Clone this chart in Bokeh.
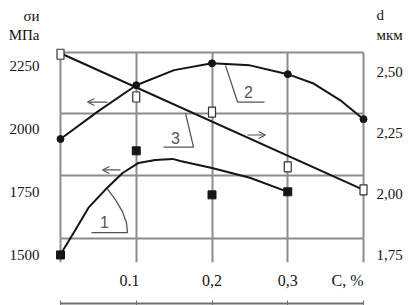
from bokeh.plotting import figure
from bokeh.models import Range1d, LinearAxis, FixedTicker, Label, Arrow, OpenHead
from bokeh.embed import file_html
from bokeh.resources import INLINE

# ---- data ----
c_pct = [0.0, 0.1, 0.2, 0.3, 0.4]
c_label_pos = [0.091, 0.2, 0.3, 0.379]
c_tick_labels = ["0.1", "0,2", "0,3", "C, %"]

sigma_ticks = [1500, 1750, 2000, 2250]
sigma_tick_labels = ["1500", "1750", "2000", "2250"]
sigma_title_pos = [2373, 2452]
sigma_title = ["МПа", "σи"]
d_ticks = [1.75, 2.0, 2.25, 2.5]
d_tick_labels = ["1,75", "2,00", "2,25", "2,50"]
d_title_pos = [2.6516, 2.7336]
d_title = ["мкм", "d"]
sigma_grid = [1565, 1815, 2064, 2306]

# curve 1 (sigma, filled squares)
s1_x = [0.0, 0.1, 0.2, 0.3]
s1_pts = [1500, 1914, 1739, 1751]
s1_curve_x = [0.0, 0.02, 0.037, 0.059, 0.082, 0.103, 0.125, 0.148, 0.158, 0.2, 0.25, 0.3]
s1_curve = [1502, 1601, 1688, 1759, 1826, 1866, 1878, 1882, 1874, 1846, 1807, 1751]

# curve 2 (sigma, filled circles)
s2_pts = [1961, 2175, 2262, 2219, 2040]
s2_curve_x = [0.0, 0.05, 0.1, 0.15, 0.2, 0.25, 0.3, 0.333, 0.369, 0.4]
s2_curve = [1961, 2072, 2175, 2235, 2262, 2254, 2219, 2183, 2116, 2040]

# curve 3 (d, open squares)
d3_pts = [2.574, 2.398, 2.336, 2.111, 2.016]
d3_line_x = [0.0, 0.4]
d3_line = [2.578, 2.016]

# annotation positions (data units of the sigma axis)
lead1_x = [0.0409, 0.0884, 0.0871, 0.0818, 0.0726, 0.062]
lead1_y = [1589, 1589, 1628, 1672, 1719, 1763]
lead2_x = [0.2693, 0.2337, 0.2178]
lead2_y = [2108, 2108, 2254]
lead3_x = [0.136, 0.1756, 0.165]
lead3_y = [1929, 1929, 2064]
num_labels = [("1", 0.0581, 1632), ("2", 0.2482, 2147), ("3", 0.1518, 1965)]
arrows = [(0.0792, 1838, 0.0554, 1838), (0.062, 2108, 0.0356, 2108), (0.2469, 1977, 0.2706, 1977)]

SERIF = "Liberation Serif"
GRID_C = "#8c8c8c"
INK = "#151515"

p = figure(width=418, height=305,
           x_range=Range1d(-0.01452, 0.4145), y_range=Range1d(1470, 2511.9),
           output_backend="svg", toolbar_location=None,
           min_border_left=49, min_border_right=44, min_border_top=0, min_border_bottom=42)
p.outline_line_color = None
p.background_fill_color = "white"
p.border_fill_color = "white"

# grids
p.xgrid.ticker = FixedTicker(ticks=c_pct)
p.xgrid.grid_line_color = GRID_C
p.xgrid.grid_line_width = 2
p.xgrid.cross_bounds = (1470, sigma_grid[-1])
p.ygrid.ticker = FixedTicker(ticks=sigma_grid)
p.ygrid.grid_line_color = GRID_C
p.ygrid.grid_line_width = 2
p.ygrid.cross_bounds = (c_pct[0], c_pct[-1])

# x axis with labels (no line)
xa = p.xaxis[0]
xa.ticker = FixedTicker(ticks=c_label_pos)
xa.major_label_overrides = {t: l for t, l in zip(c_label_pos, c_tick_labels)}
xa.axis_line_color = None
xa.major_tick_line_color = None
xa.minor_tick_line_color = None
xa.major_tick_in = 0
xa.major_tick_out = 0
xa.minor_tick_out = 0
xa.major_label_standoff = 9
xa.major_label_text_font = SERIF
xa.major_label_text_font_size = "16px"
xa.major_label_text_color = INK
xa.axis_label = " "
xa.axis_label_text_font_size = "7px"
xa.axis_label_standoff = 2

# bottom line axis
xb = LinearAxis(ticker=FixedTicker(ticks=[], minor_ticks=c_pct), bounds=(c_pct[0], c_pct[-1]))
xb.axis_line_color = "#707070"
xb.axis_line_width = 2
xb.minor_tick_line_color = "#707070"
xb.minor_tick_in = 3
xb.minor_tick_out = 2
xb.major_tick_out = 0
xb.major_tick_in = 0
xb.major_label_standoff = 0
p.add_layout(xb, "below")

# left axis (values + title)
ya = p.yaxis[0]
ya.ticker = FixedTicker(ticks=sigma_ticks + sigma_title_pos)
ya.major_label_overrides = {t: l for t, l in zip(sigma_ticks + sigma_title_pos,
                                                 sigma_tick_labels + sigma_title)}
ya.axis_line_color = None
ya.major_tick_line_color = None
ya.minor_tick_line_color = None
ya.major_tick_out = 0
ya.minor_tick_out = 0
ya.major_label_standoff = 10
ya.major_label_text_font = SERIF
ya.major_label_text_font_size = "15px"
ya.major_label_text_color = INK

# right axis (values + title)
p.extra_y_ranges = {"d": Range1d(1.7172, 2.7951)}
yr = LinearAxis(y_range_name="d", ticker=FixedTicker(ticks=d_ticks + d_title_pos))
yr.major_label_overrides = {t: l for t, l in zip(d_ticks + d_title_pos, d_tick_labels + d_title)}
yr.axis_line_color = None
yr.major_tick_line_color = None
yr.minor_tick_line_color = None
yr.major_tick_out = 0
yr.minor_tick_out = 0
yr.major_label_standoff = 2
yr.major_label_text_font = SERIF
yr.major_label_text_font_size = "15px"
yr.major_label_text_color = INK
p.add_layout(yr, "right")

# curves
p.line(s1_curve_x, s1_curve, line_color=INK, line_width=2)
p.line(s2_curve_x, s2_curve, line_color=INK, line_width=2)
p.line(d3_line_x, d3_line, line_color=INK, line_width=2, y_range_name="d")

# leaders
for lx, ly in [(lead1_x, lead1_y), (lead2_x, lead2_y), (lead3_x, lead3_y)]:
    p.line(lx, ly, line_color="#555555", line_width=1.3)

# markers
p.scatter(s1_x, s1_pts, marker="square", size=8, fill_color=INK, line_color=INK)
p.scatter(c_pct, s2_pts, marker="circle", size=7, fill_color=INK, line_color=INK)
p.rect(c_pct, d3_pts, width=7, height=10, width_units="screen", height_units="screen",
       fill_color="white", line_color="#333333", line_width=1.2, y_range_name="d")

for txt, lx, ly in num_labels:
    p.add_layout(Label(x=lx, y=ly, text=txt, text_font="Liberation Sans",
                       text_font_size="16px", text_color="#555555",
                       text_align="center", text_baseline="middle"))

for xs, ys, xe, ye in arrows:
    p.add_layout(Arrow(end=OpenHead(size=7, line_width=1.2, line_color="#555555"),
                       x_start=xs, y_start=ys, x_end=xe, y_end=ye,
                       line_width=1.2, line_color="#555555"))

open("out.html", "w").write(file_html(p, INLINE))
